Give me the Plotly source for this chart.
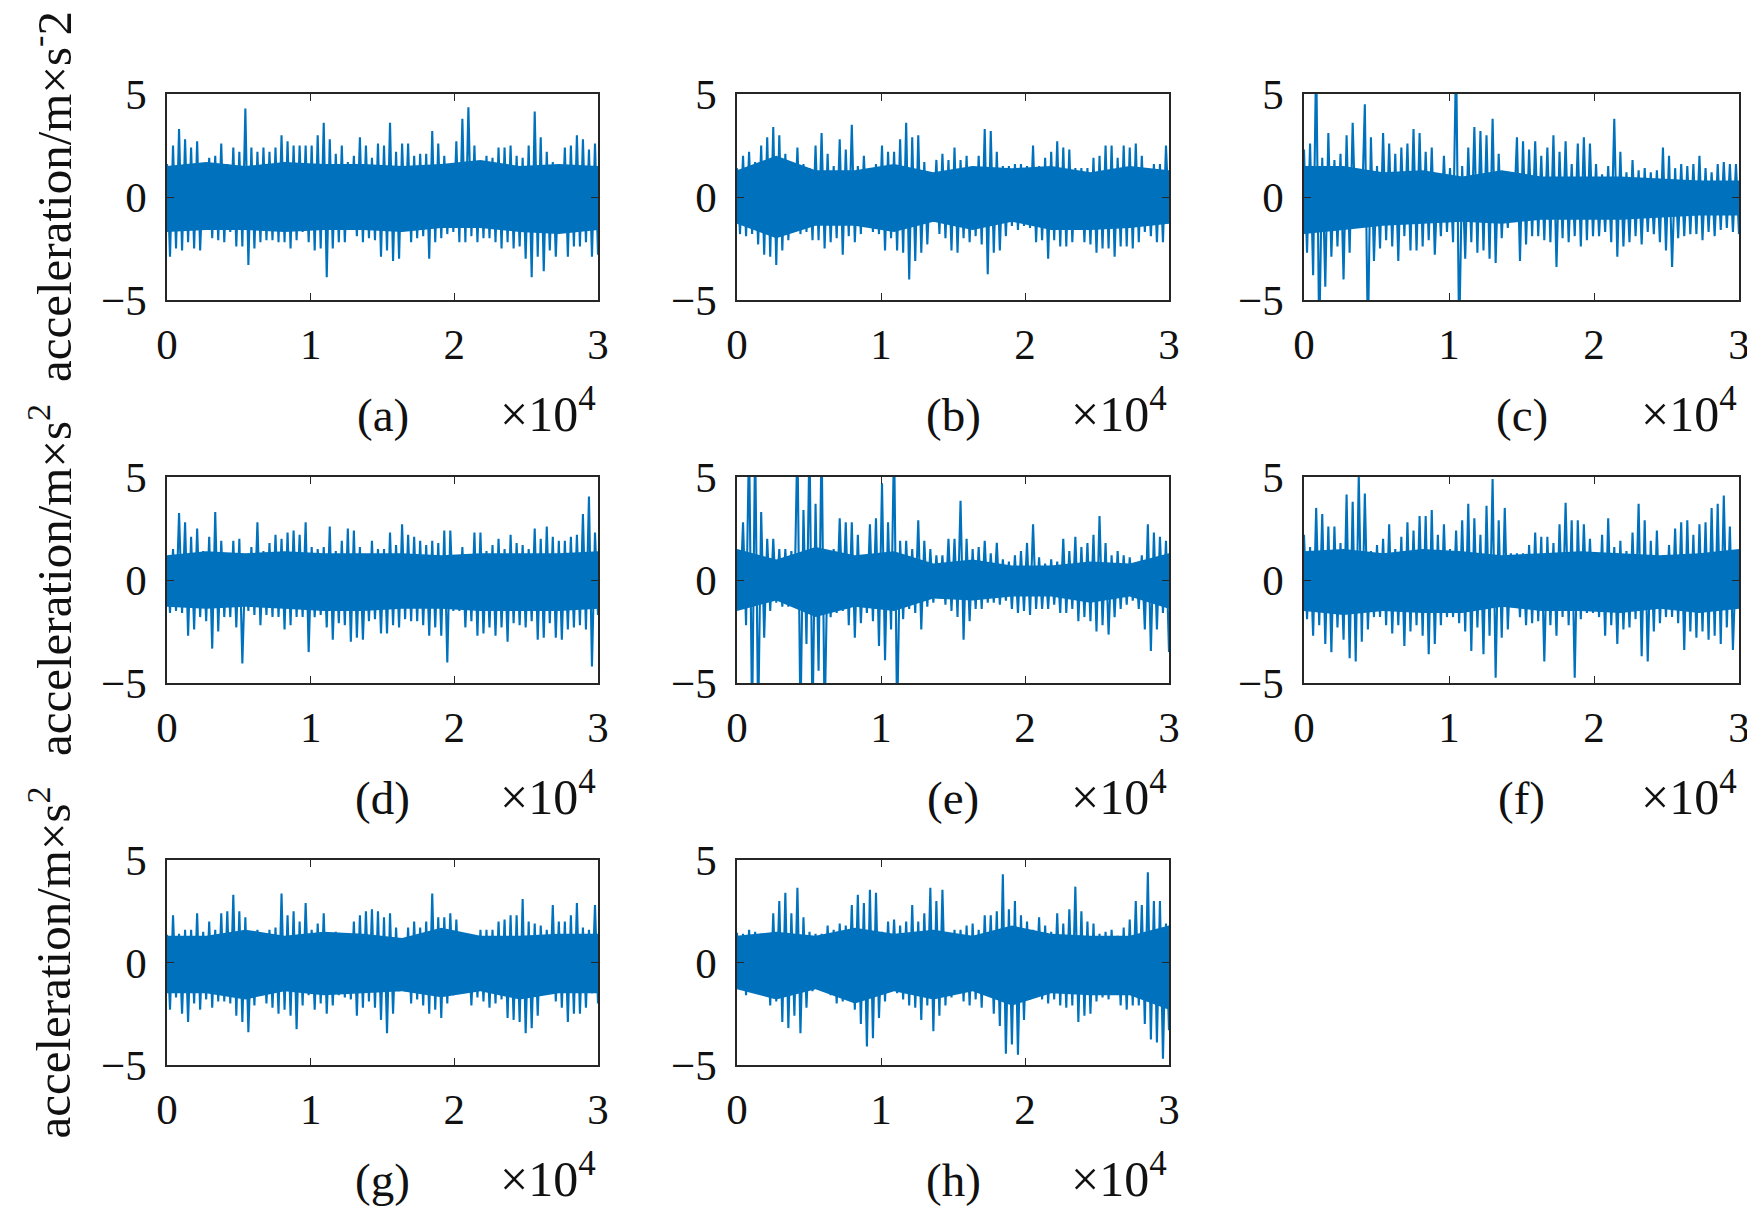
import numpy as np
import plotly.graph_objects as go

# record length (samples)
N_SAMPLES = 30000

# upper / lower envelope of each acceleration record
# at 72 evenly spaced positions along the record (m/s^2)
up_a = [1.6, 2.5, 3.3, 2.8, 2.4, 2.7, 1.3, 1.9, 2.0, 2.6,
        1.6, 2.4, 2.2, 4.3, 2.4, 2.2, 2.4, 2.2, 2.4, 3.0,
        2.7, 2.5, 2.5, 2.5, 2.5, 3.0, 3.6, 2.8, 2.1, 2.5,
        1.7, 2.0, 2.9, 2.5, 1.9, 2.6, 2.5, 3.6, 2.2, 2.6,
        2.6, 2.0, 2.1, 2.1, 3.2, 2.6, 2.0, 1.4, 2.7, 3.8,
        4.35, 2.5, 1.7, 2.0, 1.9, 2.4, 2.4, 2.5, 2.0, 1.9,
        2.5, 4.15, 2.9, 2.2, 1.7, 1.1, 2.4, 2.5, 3.0, 2.8,
        2.3, 2.6]
lo_a = [-2.9, -2.5, -2.6, -2.2, -2.5, -2.6, -1.5, -2.0, -2.1, -2.2,
        -1.7, -2.4, -2.4, -3.3, -2.5, -2.2, -2.1, -2.1, -2.2, -2.2,
        -2.5, -2.1, -1.7, -2.2, -2.6, -2.5, -3.9, -2.5, -2.2, -2.2,
        -1.4, -1.9, -2.2, -2.0, -2.1, -2.9, -2.6, -3.1, -3.0, -1.4,
        -2.2, -2.0, -1.9, -3.0, -2.2, -2.0, -1.8, -1.7, -2.2, -2.2,
        -1.9, -2.2, -2.0, -2.0, -2.2, -2.5, -2.2, -2.5, -2.4, -3.0,
        -3.9, -2.9, -3.6, -2.6, -2.9, -1.7, -2.9, -2.4, -2.4, -2.2,
        -2.9, -2.8]

up_b = [1.4, 2.0, 2.2, 1.7, 2.5, 2.9, 3.4, 3.0, 2.1, 1.6,
        2.4, 1.6, 1.4, 2.5, 3.1, 2.1, 1.5, 2.8, 2.3, 3.5,
        1.5, 2.0, 1.1, 1.6, 2.5, 2.2, 2.2, 2.8, 3.6, 2.9,
        3.0, 1.7, 1.2, 1.8, 2.1, 1.8, 2.4, 1.8, 2.0, 1.5,
        2.0, 3.3, 3.2, 2.2, 1.5, 1.5, 1.6, 1.6, 1.5, 2.5,
        1.5, 1.9, 2.2, 2.7, 2.4, 2.3, 1.4, 1.4, 1.4, 1.9,
        2.0, 2.5, 2.5, 1.9, 2.5, 2.4, 2.6, 2.0, 1.2, 1.6,
        1.6, 2.5]
lo_b = [-1.8, -1.9, -1.8, -2.3, -2.8, -2.9, -3.3, -2.6, -2.1, -1.7,
        -1.8, -1.7, -2.1, -2.1, -2.5, -2.2, -2.0, -2.8, -1.9, -2.2,
        -1.8, -1.2, -1.7, -1.8, -2.6, -2.0, -2.6, -2.7, -4.0, -3.1,
        -2.7, -2.3, -1.2, -1.8, -2.0, -2.6, -2.7, -2.0, -2.2, -1.9,
        -2.3, -3.75, -2.7, -2.6, -1.9, -1.4, -1.6, -1.4, -1.5, -2.2,
        -2.1, -3.0, -2.1, -2.4, -2.4, -2.2, -1.2, -2.2, -2.3, -2.7,
        -2.5, -2.5, -2.9, -2.4, -2.4, -2.5, -2.2, -1.7, -1.9, -2.2,
        -2.2, -1.2]

up_c = [2.3, 2.6, 7.0, 1.9, 3.1, 1.8, 2.1, 3.0, 3.6, 1.2,
        4.5, 2.9, 1.5, 3.1, 2.6, 2.1, 2.4, 2.6, 3.3, 3.1,
        2.2, 2.4, 1.1, 2.0, 1.4, 7.0, 1.5, 2.4, 3.4, 3.2,
        3.0, 3.8, 2.1, 1.1, 0.8, 2.9, 2.7, 2.3, 2.7, 2.0,
        2.4, 3.0, 2.2, 2.7, 1.6, 2.6, 2.9, 2.6, 1.6, 1.1,
        1.5, 3.8, 2.2, 1.2, 1.8, 1.3, 1.4, 1.2, 1.3, 2.4,
        2.0, 1.4, 1.6, 1.5, 1.6, 2.0, 1.4, 1.2, 1.6, 1.7,
        1.6, 1.6]
lo_c = [-2.7, -3.8, -7.0, -4.35, -2.9, -2.4, -4.0, -2.7, -1.5, -0.9,
        -7.0, -3.1, -2.5, -2.1, -2.4, -3.1, -1.9, -2.6, -2.6, -2.4,
        -2.1, -2.8, -1.9, -1.7, -2.2, -7.0, -3.0, -2.2, -2.7, -2.6,
        -3.0, -3.2, -2.0, -1.5, -0.9, -3.1, -2.3, -1.9, -1.9, -2.1,
        -2.2, -3.4, -2.0, -2.2, -1.9, -2.4, -2.1, -1.9, -1.9, -1.7,
        -2.2, -2.9, -2.4, -2.2, -1.9, -2.3, -1.7, -1.8, -2.2, -2.6,
        -3.4, -2.0, -1.9, -1.8, -1.8, -2.1, -1.7, -1.9, -1.6, -1.5,
        -1.7, -1.8]

up_d = [1.1, 1.5, 3.25, 2.8, 2.1, 2.5, 1.4, 2.1, 3.3, 1.9,
        1.3, 1.9, 2.0, 0.9, 1.6, 2.8, 1.4, 1.8, 2.2, 2.0,
        2.3, 2.4, 2.2, 2.8, 1.6, 1.5, 1.6, 2.6, 1.4, 1.9,
        2.5, 2.4, 1.6, 1.1, 1.9, 1.5, 1.5, 2.3, 1.7, 2.7,
        2.2, 2.1, 1.9, 1.7, 1.9, 1.8, 2.4, 2.4, 1.1, 1.6,
        1.2, 2.3, 2.3, 1.4, 1.7, 2.0, 1.5, 2.2, 1.8, 1.7,
        1.5, 2.5, 2.0, 2.6, 2.1, 1.9, 1.9, 2.1, 2.2, 3.2,
        4.05, 2.3]
lo_d = [-1.6, -1.5, -1.6, -2.7, -2.4, -1.8, -2.0, -3.33, -2.5, -1.8,
        -1.8, -2.3, -4.05, -1.5, -1.7, -2.2, -1.7, -1.8, -1.8, -2.4,
        -2.2, -1.8, -1.8, -3.5, -1.8, -1.7, -2.3, -2.9, -2.1, -2.2,
        -3.0, -2.8, -2.9, -2.0, -1.9, -2.6, -2.6, -2.2, -2.3, -1.9,
        -2.0, -2.0, -2.2, -2.7, -2.3, -2.7, -4.0, -1.5, -1.5, -2.3,
        -2.0, -2.7, -2.6, -2.3, -2.7, -2.3, -3.0, -2.1, -2.2, -2.3,
        -2.0, -2.9, -2.8, -2.1, -2.8, -2.9, -2.4, -2.3, -2.2, -2.4,
        -4.2, -1.7]

up_e = [1.4, 2.8, 7.0, 7.0, 3.3, 2.0, 2.0, 1.5, 1.5, 1.4,
        7.0, 3.4, 7.0, 3.7, 7.0, 1.2, 1.5, 3.0, 2.8, 2.8,
        2.2, 1.1, 2.7, 3.0, 4.7, 2.8, 7.0, 1.9, 1.9, 1.5,
        2.9, 1.9, 1.5, 1.2, 1.2, 2.0, 2.0, 3.85, 2.0, 1.5,
        1.6, 1.9, 1.3, 1.8, 1.0, 0.9, 1.2, 1.4, 1.8, 2.7,
        1.1, 0.8, 1.0, 0.9, 2.0, 1.4, 2.1, 1.6, 1.8, 2.2,
        3.1, 1.8, 1.2, 1.4, 1.2, 1.1, 0.8, 1.2, 2.7, 2.3,
        2.1, 1.9]
lo_e = [-1.1, -2.2, -7.0, -7.0, -2.8, -1.5, -1.1, -1.3, -1.3, -1.2,
        -7.0, -3.1, -7.0, -4.4, -7.0, -1.8, -1.6, -1.5, -2.2, -2.8,
        -2.1, -1.6, -2.0, -3.2, -3.9, -2.4, -7.0, -1.9, -1.4, -1.6,
        -2.4, -1.3, -1.1, -0.9, -1.2, -1.5, -1.8, -2.9, -2.0, -1.4,
        -1.4, -1.1, -1.1, -1.2, -1.0, -1.4, -1.6, -1.5, -1.7, -1.4,
        -1.4, -1.4, -1.2, -1.6, -1.6, -1.4, -2.0, -1.8, -2.0, -2.5,
        -2.2, -2.65, -1.8, -1.4, -1.2, -1.0, -1.4, -2.4, -3.45, -2.4,
        -1.6, -3.5]

up_f = [2.2, 1.6, 3.5, 3.2, 2.6, 2.6, 1.8, 4.15, 3.8, 5.1,
        4.2, 1.4, 1.7, 2.0, 2.7, 1.5, 2.1, 2.8, 2.4, 3.1,
        3.1, 3.4, 2.2, 2.7, 1.5, 2.4, 2.9, 3.7, 3.0, 2.2,
        3.6, 4.9, 2.9, 3.5, 1.3, 1.3, 1.3, 1.7, 2.3, 2.1,
        2.1, 1.8, 2.7, 3.75, 2.9, 2.9, 2.7, 2.0, 1.2, 2.2,
        3.0, 1.6, 1.9, 1.4, 2.3, 3.7, 2.9, 1.9, 2.4, 1.2,
        1.7, 2.5, 2.8, 2.9, 2.2, 2.7, 2.8, 3.5, 3.7, 4.1,
        2.6, 1.0]
lo_f = [-1.9, -2.7, -2.2, -3.1, -3.5, -2.3, -2.9, -3.8, -3.95, -3.0,
        -2.4, -1.8, -1.8, -2.2, -2.6, -2.2, -3.2, -2.5, -2.2, -2.7,
        -3.6, -3.1, -2.2, -1.8, -1.8, -2.1, -2.5, -3.45, -2.3, -3.6,
        -2.7, -4.75, -2.8, -2.4, -1.3, -1.8, -2.2, -2.1, -2.0, -3.95,
        -2.2, -2.7, -1.8, -2.2, -4.75, -1.9, -1.6, -1.6, -1.8, -2.7,
        -2.2, -3.1, -2.4, -2.3, -1.9, -3.7, -3.95, -2.5, -2.1, -1.8,
        -1.8, -2.1, -3.4, -2.5, -2.8, -2.5, -2.9, -2.7, -3.1, -2.3,
        -3.4, -1.0]

up_g = [1.35, 2.3, 1.4, 1.6, 1.6, 2.4, 1.5, 2.0, 1.6, 2.4,
        2.5, 3.3, 2.5, 2.2, 1.2, 1.6, 1.4, 1.6, 1.7, 3.37,
        2.3, 2.5, 2.0, 2.9, 1.6, 1.9, 2.4, 1.3, 1.5, 1.3,
        1.4, 2.0, 2.3, 2.5, 2.6, 2.5, 2.2, 2.4, 1.7, 0.9,
        1.7, 2.0, 1.7, 2.0, 3.37, 2.2, 2.2, 2.4, 2.1, 1.4,
        1.1, 1.3, 1.6, 1.6, 1.6, 2.0, 2.1, 2.3, 2.3, 3.1,
        2.0, 1.9, 1.8, 1.6, 2.8, 2.0, 2.0, 2.3, 2.9, 1.7,
        1.6, 2.8]
lo_g = [-2.3, -1.7, -2.5, -2.9, -2.0, -2.3, -1.8, -2.2, -1.9, -1.9,
        -2.0, -2.6, -2.9, -3.4, -2.1, -1.6, -2.0, -2.2, -2.5, -2.3,
        -2.6, -3.25, -2.1, -1.6, -2.3, -2.0, -2.5, -2.1, -1.6, -1.7,
        -1.8, -2.6, -2.2, -1.9, -2.2, -2.8, -3.45, -2.5, -1.4, -1.4,
        -2.0, -1.8, -2.1, -2.5, -2.3, -2.7, -2.0, -1.6, -1.5, -1.4,
        -2.1, -1.7, -1.9, -2.2, -2.0, -1.8, -2.7, -2.8, -2.9, -3.45,
        -3.2, -2.6, -1.4, -1.5, -1.9, -2.2, -2.9, -2.5, -2.5, -2.2,
        -1.5, -2.0]

up_h = [1.45, 1.4, 1.6, 1.5, 1.4, 1.4, 2.4, 3.0, 3.4, 2.4,
        3.65, 2.2, 1.5, 1.4, 1.4, 1.8, 1.6, 1.9, 1.8, 2.8,
        3.3, 2.9, 3.55, 3.4, 1.5, 2.0, 2.1, 1.8, 2.0, 2.8,
        2.0, 2.4, 3.65, 3.0, 3.55, 1.3, 1.6, 1.6, 1.8, 1.9,
        1.6, 2.3, 2.3, 2.5, 4.3, 2.6, 3.0, 2.3, 2.0, 1.6,
        2.2, 1.8, 1.5, 2.4, 1.9, 2.6, 3.7, 2.5, 2.0, 1.9,
        1.4, 1.5, 1.6, 1.3, 1.7, 2.1, 3.0, 2.8, 4.4, 3.0,
        3.0, 1.9]
lo_h = [-1.3, -1.6, -1.1, -1.5, -1.4, -2.1, -1.9, -2.9, -3.2, -2.6,
        -3.45, -2.2, -1.4, -1.3, -1.2, -1.6, -2.0, -1.9, -1.7, -2.3,
        -3.0, -4.1, -3.7, -2.7, -1.9, -1.1, -1.5, -1.8, -2.1, -2.2,
        -2.8, -2.1, -3.35, -2.6, -2.1, -1.7, -1.5, -1.9, -2.1, -1.8,
        -2.2, -1.6, -2.5, -3.1, -4.45, -4.0, -4.5, -2.8, -1.8, -1.3,
        -1.8, -2.0, -1.8, -2.1, -2.2, -2.1, -2.9, -2.6, -2.5, -1.9,
        -1.7, -1.8, -1.5, -2.1, -2.3, -2.1, -2.1, -3.0, -3.75, -3.9,
        -4.7, -3.3]

# extent of the solid, dense core of each record (12 evenly spaced readings)
core_up_a = [1.5, 1.7, 1.5, 1.7, 1.6, 1.6, 1.5, 1.6, 1.8, 1.5, 1.6, 1.5]
core_lo_a = [-1.7, -1.6, -1.6, -1.7, -1.6, -1.6, -1.7, -1.5, -1.5, -1.7, -1.8, -1.6]
core_up_b = [1.3, 2.0, 1.3, 1.3, 1.6, 1.2, 1.5, 1.4, 1.5, 1.2, 1.5, 1.3]
core_lo_b = [-1.3, -2.0, -1.4, -1.4, -1.7, -1.2, -1.6, -1.2, -1.6, -1.6, -1.5, -1.3]
core_up_c = [1.5, 1.5, 1.2, 1.3, 1.0, 1.3, 1.0, 1.0, 1.0, 0.9, 0.8, 0.8]
core_lo_c = [-1.8, -1.6, -1.4, -1.3, -1.2, -1.3, -1.1, -1.1, -1.1, -1.0, -0.9, -0.9]
core_up_d = [1.2, 1.4, 1.3, 1.4, 1.3, 1.3, 1.3, 1.2, 1.3, 1.3, 1.3, 1.4]
core_lo_d = [-1.3, -1.4, -1.3, -1.4, -1.5, -1.5, -1.4, -1.4, -1.5, -1.5, -1.5, -1.4]
core_up_e = [1.5, 1.0, 1.6, 1.2, 1.4, 0.8, 1.0, 0.7, 0.7, 0.9, 0.8, 1.3]
core_lo_e = [-1.5, -1.0, -1.8, -1.3, -1.5, -0.9, -1.0, -0.8, -0.8, -1.1, -0.8, -1.4]
core_up_f = [1.4, 1.5, 1.3, 1.5, 1.4, 1.2, 1.3, 1.4, 1.3, 1.2, 1.3, 1.5]
core_lo_f = [-1.5, -1.7, -1.5, -1.6, -1.6, -1.3, -1.5, -1.5, -1.6, -1.4, -1.6, -1.4]
core_up_g = [1.3, 1.3, 1.6, 1.3, 1.5, 1.4, 1.2, 1.7, 1.3, 1.3, 1.4, 1.4]
core_lo_g = [-1.5, -1.5, -1.8, -1.4, -1.6, -1.5, -1.4, -1.7, -1.4, -1.8, -1.5, -1.5]
core_up_h = [1.3, 1.5, 1.3, 1.7, 1.4, 1.6, 1.3, 1.8, 1.4, 1.3, 1.3, 1.8]
core_lo_h = [-1.3, -1.8, -1.3, -2.0, -1.4, -1.8, -1.4, -2.1, -1.5, -1.6, -1.6, -2.3]

panel_labels = ["(a)", "(b)", "(c)", "(d)", "(e)", "(f)", "(g)", "(h)"]
row_titles = ["acceleration/m×s<sup>-</sup>2",
              "acceleration/m×s<sup>2</sup>",
              "acceleration/m×s<sup>2</sup>"]
x_ticks = [0, 10000, 20000, 30000]
x_ticktext = ["0", "1", "2", "3"]
y_ticks = [-5, 0, 5]
y_ticktext = ["−5", "0", "5"]

uppers = [up_a, up_b, up_c, up_d, up_e, up_f, up_g, up_h]
lowers = [lo_a, lo_b, lo_c, lo_d, lo_e, lo_f, lo_g, lo_h]
core_ups = [core_up_a, core_up_b, core_up_c, core_up_d,
            core_up_e, core_up_f, core_up_g, core_up_h]
core_los = [core_lo_a, core_lo_b, core_lo_c, core_lo_d,
            core_lo_e, core_lo_f, core_lo_g, core_lo_h]

# page geometry: the plot div sits 8 px in from the page corner
PAGE_PAD = 8
W, H = 1747, 1204
col_px = [(167, 598), (737, 1169), (1304, 1739)]   # page pixels
row_px = [(94, 300), (477, 683), (860, 1065)]


def fx(px):
    return (px - PAGE_PAD) / W


def fy(py):
    return 1 - (py - PAGE_PAD) / H


BLUE = "#0072BD"
FONT = "Liberation Serif, DejaVu Serif, serif"
AX_COLOR = "#262626"
TXT = "#111111"

fig = go.Figure()
layout = {}
annotations = []

for i, (up, lo) in enumerate(zip(uppers, lowers)):
    r, c = divmod(i, 3)
    n = i + 1
    xa = "x" if n == 1 else f"x{n}"
    ya = "y" if n == 1 else f"y{n}"

    # dense core of the record
    cu, cl = core_ups[i], core_los[i]
    xc = np.linspace(0, N_SAMPLES, len(cu))
    fig.add_trace(go.Scatter(
        x=np.concatenate([xc, xc[::-1]]), y=np.concatenate([cu, cl[::-1]]),
        mode="lines", fill="toself", fillcolor=BLUE,
        line=dict(width=0, color=BLUE), xaxis=xa, yaxis=ya,
        showlegend=False, hoverinfo="skip"))

    # signal drawn between its upper and lower envelope
    xs = np.linspace(0, N_SAMPLES, 2 * len(up))
    ys = np.empty(2 * len(up))
    ys[0::2] = up
    ys[1::2] = lo
    fig.add_trace(go.Scatter(
        x=xs, y=ys, mode="lines", line=dict(color=BLUE, width=2.1),
        xaxis=xa, yaxis=ya, showlegend=False))

    x0, x1 = col_px[c]
    y0, y1 = row_px[r]
    axis_common = dict(
        showline=True, mirror="ticks", linecolor=AX_COLOR, linewidth=1.5,
        ticks="inside", ticklen=7, tickcolor=AX_COLOR, tickwidth=1.2,
        showgrid=False, zeroline=False, automargin=False,
        tickfont=dict(family=FONT, size=43, color=TXT),
    )
    layout["xaxis" if n == 1 else f"xaxis{n}"] = dict(
        domain=[fx(x0), fx(x1)], range=[0, N_SAMPLES], anchor=ya,
        tickvals=x_ticks, ticktext=x_ticktext, ticklabelstandoff=6,
        **axis_common)
    layout["yaxis" if n == 1 else f"yaxis{n}"] = dict(
        domain=[fy(y1), fy(y0)], range=[-5, 5], anchor=xa,
        tickvals=y_ticks, ticktext=y_ticktext, ticklabelstandoff=10,
        **axis_common)

    annotations.append(dict(
        text=panel_labels[i], x=fx((x0 + x1) / 2), y=fy(y1 + 115),
        xref="paper", yref="paper", xanchor="center", yanchor="middle",
        showarrow=False, font=dict(family=FONT, size=47, color=TXT)))
    annotations.append(dict(
        text="×10<sup>4</sup>", x=fx(x1), y=fy(y1 + 110),
        xref="paper", yref="paper", xanchor="right", yanchor="middle",
        showarrow=False, font=dict(family=FONT, size=50, color=TXT)))

for r, title in enumerate(row_titles):
    y0, y1 = row_px[r]
    annotations.append(dict(
        text=title, x=fx(50), y=fy((y0 + y1) / 2), textangle=-90,
        xref="paper", yref="paper", xanchor="center", yanchor="middle",
        showarrow=False, font=dict(family=FONT, size=49, color=TXT)))

fig.update_layout(
    width=W, height=H,
    margin=dict(l=0, r=0, t=0, b=0, autoexpand=False),
    paper_bgcolor="white", plot_bgcolor="white",
    annotations=annotations,
    **layout,
)

fig.write_html("out.html")
